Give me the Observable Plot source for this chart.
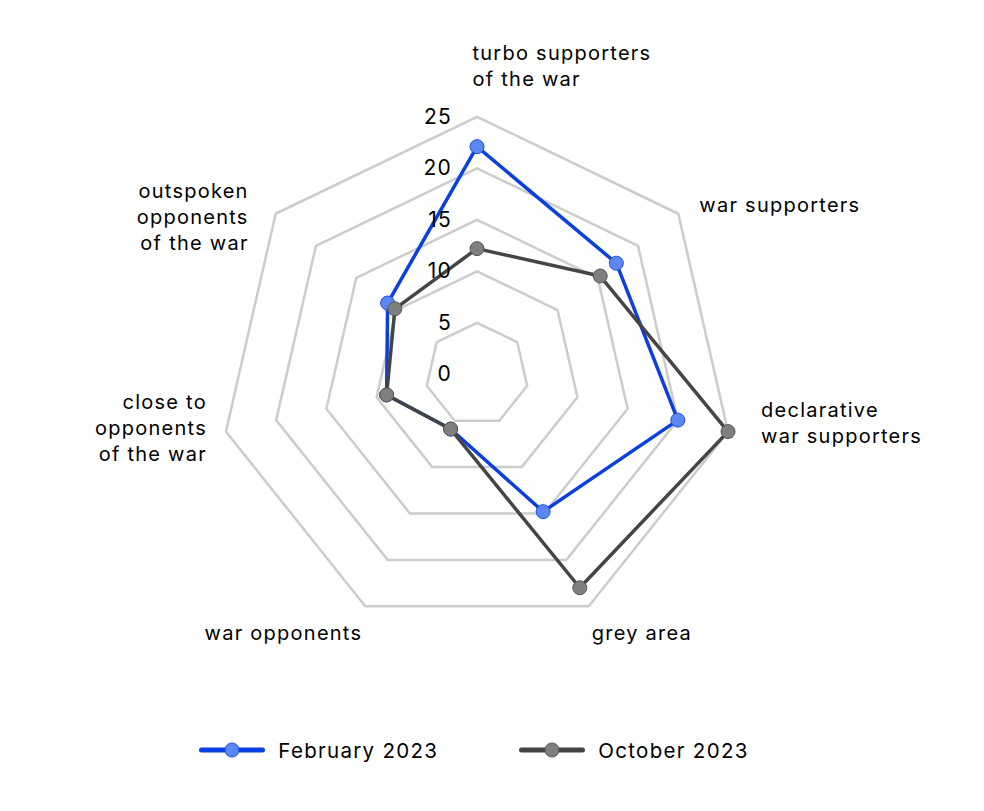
<!DOCTYPE html>
<html>
<head>
<meta charset="utf-8">
<script src="https://cdn.jsdelivr.net/npm/d3@7"></script>
<script src="https://cdn.jsdelivr.net/npm/@observablehq/plot@0.6"></script>
<style>
  html, body { margin: 0; padding: 0; background: #fff; }
  body { width: 984px; height: 811px; overflow: hidden; font-family: Inter, "Noto Sans", sans-serif; }
  #chart svg { display: block; }
  #legend { height: 80px; display: flex; align-items: center; justify-content: center; gap: 81px; font-size: 20.5px; letter-spacing: 1.3px; color: #000; padding-right: 36px; }
  .item { display: flex; align-items: center; gap: 13px; }
</style>
</head>
<body>
<div id="chart"></div>
<div id="legend"></div>
<script>
// ---- data ----
const categories = [
  "turbo supporters\nof the war",
  "war supporters",
  "declarative\nwar supporters",
  "grey area",
  "war opponents",
  "close to\nopponents\nof the war",
  "outspoken\nopponents\nof the war"
];
const february2023 = [22.1, 17.3, 20.0, 14.8, 5.9, 9.0, 11.1];
const october2023 = [12.2, 15.3, 25.0, 23.0, 5.9, 9.0, 10.2];
const seriesNames = ["February 2023", "October 2023"];
const ringTicks = [0, 5, 10, 15, 20, 25];

// ---- geometry helpers ----
const n = categories.length;
const ang = i => (i % n) * 2 * Math.PI / n;
const px = (v, i) => v * Math.sin(ang(i));
const py = (v, i) => v * Math.cos(ang(i));

const W = 984, H = 710;
const k = 10.3, cx = 476.5, cy = 373.8;
const xDomain = [-cx / k, (W - cx) / k];
const yDomain = [-(H - cy) / k, cy / k];

const rings = [];
for (const t of ringTicks.filter(t => t > 0)) {
  for (let i = 0; i <= n; i++) rings.push({ring: t, x: px(t, i), y: py(t, i)});
}

const seriesValues = [february2023, october2023];
const lines = seriesValues.map((vals, s) => {
  const arr = [];
  for (let i = 0; i <= n; i++) arr.push({series: seriesNames[s], x: px(vals[i % n], i), y: py(vals[i % n], i), v: vals[i % n]});
  return arr;
});

const outer = ringTicks[ringTicks.length - 1];
const labelData = categories.map((c, i) => ({label: c, i, x: px(outer, i), y: py(outer, i)}));
const labelOffsets = [[-4.5, -52, "start"], [21, -10, "start"], [33, -9.5, "start"], [3, 25, "start"], [-3, 25, "end"], [-19, -5, "end"], [-27, 1.5, "end"]];

const colors = {
  "February 2023": {line: "#0a3fe0", fill: "#5c87f2", stroke: "#1e4fe0"},
  "October 2023": {line: "#454545", fill: "#7f7f7f", stroke: "#555555"}
};

const marks = [
  Plot.line(rings, {x: "x", y: "y", z: "ring", stroke: "#cccccc", strokeWidth: 2.5, strokeLinejoin: "miter"})
];
lines.forEach((arr, s) => {
  const c = colors[seriesNames[s]];
  marks.push(Plot.line(arr, {x: "x", y: "y", stroke: c.line, strokeWidth: 3.5, strokeLinejoin: "round"}));
  marks.push(Plot.dot(arr.slice(0, n), {x: "x", y: "y", r: 7, fill: c.fill, stroke: c.stroke, strokeWidth: 1}));
});
marks.push(Plot.text(ringTicks, {x: () => 0, y: d => d, text: d => String(d), textAnchor: "end", dx: -25, fontSize: 21, fill: "#000"}));
labelOffsets.forEach(([dx, dy, anchor], i) => {
  marks.push(Plot.text([labelData[i]], {x: "x", y: "y", text: "label", textAnchor: anchor, dx, dy, fontSize: 20, lineHeight: 1.3, fill: "#000", lineAnchor: "middle"}));
});

const chart = Plot.plot({
  width: W, height: H,
  margin: 0,
  x: {domain: xDomain, axis: null},
  y: {domain: yDomain, axis: null},
  style: "font-family: Inter, 'Noto Sans', sans-serif; background: #fff; letter-spacing: 1.25px;",
  marks
});
document.getElementById("chart").append(chart);

// ---- legend ----
const legend = document.getElementById("legend");
seriesNames.forEach(name => {
  const c = colors[name];
  const item = document.createElement("div");
  item.className = "item";
  item.innerHTML = `<svg width="66" height="18"><line x1="2.5" y1="9" x2="63.5" y2="9" stroke="${c.line}" stroke-width="5" stroke-linecap="round"/><circle cx="33" cy="9" r="7" fill="${c.fill}" stroke="${c.stroke}" stroke-width="1"/></svg><span>${name}</span>`;
  legend.append(item);
});
</script>
</body>
</html>
